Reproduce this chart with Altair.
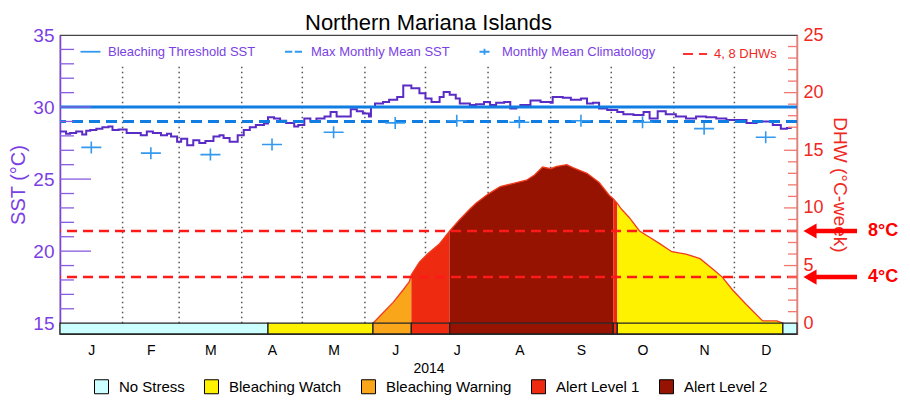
import altair as alt
import pandas as pd

# ---------------- values ----------------
YEAR_START = "2014-01-01"

# daily SST (day offset from 1 Jan 2014, degC)
sst_day = [0, 3, 5, 8, 11, 13, 15, 18, 21, 24, 26, 29, 33, 36, 40, 43, 46, 50, 53, 55,
           58, 60, 63, 66, 69, 72, 76, 79, 81, 84, 88, 91, 94, 97, 101, 103, 106, 109, 112, 116,
           118, 121, 124, 127, 131, 134, 137, 140, 144, 147, 150, 153, 154, 156, 160, 163, 167, 170, 174, 178,
           181, 184, 188, 190, 193, 196, 198, 203, 206, 210, 213, 216, 220, 223, 226, 228, 233, 238, 243, 244,
           249, 253, 258, 261, 264, 267, 271, 276, 279, 284, 289, 292, 296, 300, 305, 310, 315, 320, 325, 330,
           335, 340, 345, 350, 353, 357, 360, 362]
sst_val = [28.3, 28.15, 28.2, 28.3, 28.1, 28.35, 28.4, 28.5, 28.6, 28.65, 28.4, 28.45, 28.2, 28.2, 28.05, 28.3, 28.2, 28.05, 28.15, 27.95,
           27.6, 27.8, 27.35, 27.7, 27.5, 27.65, 27.95, 28.05, 27.85, 27.6, 28.05, 28.4, 28.6, 28.75, 28.85, 29.3, 29.2, 29.05, 28.9, 28.65,
           28.75, 29.2, 29.0, 29.2, 29.35, 29.65, 29.35, 29.35, 29.85, 29.7, 29.55, 29.35, 30.0, 30.25, 30.35, 30.5, 30.7, 31.5, 31.3, 30.95,
           30.6, 30.35, 30.7, 31.05, 30.85, 30.6, 30.25, 30.15, 30.2, 30.35, 30.15, 30.3, 30.35, 29.9, 30.0, 30.15, 30.45, 30.35, 30.3, 30.7,
           30.65, 30.5, 30.6, 30.25, 30.3, 29.9, 29.8, 29.65, 29.5, 29.45, 29.65, 29.2, 29.7, 29.5, 29.35, 29.2, 29.35, 29.3, 29.2, 29.1,
           29.1, 28.9, 29.0, 29.0, 28.75, 28.5, 28.55, 28.5]

# monthly mean climatology (degC), one per month
clim_val = [27.2, 26.8, 26.7, 27.4, 28.25, 28.9, 29.05, 28.95, 29.05, 28.95, 28.5, 27.9]
mmm_sst = 29.0          # max monthly mean
threshold_sst = 30.0    # bleaching threshold

# degree heating weeks
dhw_day = [155, 160, 165, 170, 173, 174, 178, 182, 188, 193, 198, 203, 206, 212, 218, 224, 231, 235, 239, 243,
           246, 251, 254, 261, 267, 272, 274, 276, 278, 282, 287, 292, 297, 303, 310, 317, 324, 328, 333, 340,
           348, 355, 358]
dhw_val = [0.0, 0.9, 1.8, 2.9, 3.6, 4.2, 5.3, 6.0, 6.9, 8.0, 9.0, 9.9, 10.4, 11.2, 11.85, 12.1, 12.4, 12.85, 13.55, 13.4,
           13.6, 13.75, 13.5, 13.0, 12.2, 11.1, 10.8, 10.4, 9.9, 9.15, 8.0, 7.45, 6.9, 6.2, 6.0, 5.6, 4.6, 4.0, 2.9, 1.6,
           0.2, 0.2, 0.0]
dhw_lines = [4, 8]
dhw_arrow_labels = ["4°C", "8°C"]

stress_levels = ["No Stress", "Bleaching Watch", "Bleaching Warning", "Alert Level 1", "Alert Level 2"]
stress_colors = ["#CCFFFF", "#FFF200", "#FAA61A", "#EE2A10", "#951300"]
stress_start = ["2014-01-01", "2014-04-14", "2014-06-05", "2014-06-24", "2014-07-13",
                "2014-10-02", "2014-10-04", "2014-12-25"]
stress_end_last = "2015-01-01"
stress_level = ["No Stress", "Bleaching Watch", "Bleaching Warning", "Alert Level 1", "Alert Level 2",
                "Alert Level 1", "Bleaching Watch", "No Stress"]

month_letters = ["J", "F", "M", "A", "M", "J", "J", "A", "S", "O", "N", "D"]
sst_ticks_minor = [v for v in range(16, 35) if v % 5 != 0]
sst_ticks_major = [20, 25, 30]
dhw_ticks_minor = [v for v in range(1, 25) if v % 5 != 0]
dhw_ticks_major = [5, 10, 15, 20]

ref_names = ["Bleaching Threshold SST", "Max Monthly Mean SST", "Monthly Mean Climatology"]
dhw_name = "4, 8 DHWs"

# ---------------- derived tables ----------------
t0 = pd.Timestamp(YEAR_START)
def doy(s):
    return (pd.Timestamp(s) - t0).days

m_starts = [doy(d) for d in pd.date_range(YEAR_START, stress_end_last, freq="MS")]
m_mids = [(a + b) / 2 for a, b in zip(m_starts[:-1], m_starts[1:])]
x_end = m_starts[-1]

sst_df = pd.DataFrame({"day": sst_day, "sst": sst_val})
clim_df = pd.DataFrame({"day": m_mids, "sst": clim_val, "name": ref_names[2]})
month_df = pd.DataFrame({"day": m_starts[1:-1], "base": 15.0})
dhw_df = pd.DataFrame({"day": dhw_day, "dhw": dhw_val})

s_start = [doy(d) for d in stress_start]
s_end = s_start[1:] + [doy(stress_end_last)]
stress_df = pd.DataFrame({"start": s_start, "end": s_end, "level": stress_level, "top": 15.0})

area_rows = []
for i, (a, b, lev) in enumerate(zip(s_start, s_end, stress_level)):
    pts = [(d, v) for d, v in zip(dhw_day, dhw_val) if a <= d <= b]
    if len(pts) >= 2:
        for d, v in pts:
            area_rows.append({"day": d, "dhw": v, "base": 0.0, "level": lev, "seg": i})
area_df = pd.DataFrame(area_rows)

thr_df = pd.DataFrame({"sst": [threshold_sst], "name": [ref_names[0]]})
mmm_df = pd.DataFrame({"sst": [mmm_sst], "name": [ref_names[1]]})
dhwl_df = pd.DataFrame({"dhw": dhw_lines, "lab": dhw_name})
arrow_df = pd.DataFrame({"dhw": dhw_lines, "txt": dhw_arrow_labels})

# ---------------- styling ----------------
W, H = 737, 299
FONT = "Liberation Sans"
PURPLE = "#7B3FE4"
RED = "#F0281E"
BLUE = "#0F7DE2"
LBLUE = "#3399EE"

SST_MIN = 14.25
stress_df["bottom"] = SST_MIN
sst_scale = alt.Scale(domain=[SST_MIN, 35], nice=False, zero=False)
dhw_scale = alt.Scale(domain=[(SST_MIN - 15) * 1.25, 25], nice=False, zero=False)
x_scale = alt.Scale(domain=[0, x_end], nice=False, zero=False)

label_expr = "".join(f"datum.value == {m} ? '{l}' : " for m, l in zip(m_mids, month_letters)) + "''"
x_axis = alt.Axis(values=m_mids, labelExpr=label_expr, title="2014", ticks=False, domain=False,
                  grid=False, labelFontSize=14, labelColor="black", labelPadding=9,
                  titleFontSize=14, titleFontWeight="normal", titleColor="black", titlePadding=4,
                  labelFont=FONT, titleFont=FONT, orient="bottom")
X = lambda f: alt.X(f, scale=x_scale, axis=x_axis)

color_legend = alt.Legend(orient="none", legendX=34, legendY=344, direction="horizontal", title=None,
                          symbolType="square", symbolSize=196, symbolStrokeColor="black",
                          symbolStrokeWidth=1, symbolOpacity=1, labelFontSize=15, labelFont=FONT,
                          labelColor="black", labelOffset=10, columnPadding=17, padding=0, labelLimit=300)
color_enc = alt.Color("level:N", scale=alt.Scale(domain=stress_levels, range=stress_colors), legend=color_legend)

dotted = alt.Chart(month_df).mark_rule(color="#555555", strokeDash=[1.5, 3.5], strokeWidth=1.5).encode(
    x=X("day:Q"), y=alt.Y("base:Q", scale=sst_scale, axis=None), y2=alt.value(31))

area = alt.Chart(area_df).mark_area(opacity=1).encode(
    x=X("day:Q"),
    y=alt.Y("dhw:Q", scale=dhw_scale, stack=None, axis=None),
    y2="base:Q",
    color=color_enc, detail="seg:N")

edge = alt.Chart(dhw_df).mark_line(color="#F23C1E", strokeWidth=1.3).encode(
    x=X("day:Q"),
    y=alt.Y("dhw:Q", scale=dhw_scale,
            axis=alt.Axis(orient="right", values=[0, 5, 10, 15, 20, 25], ticks=False, grid=False,
                          domainColor="#F07A70", domainWidth=1.5, labelColor=RED, labelFontSize=18,
                          labelFont=FONT, labelPadding=6, title="DHW (°C-week)", titleColor=RED,
                          titleFontSize=19, titleFontWeight="normal", titleFont=FONT, titlePadding=6)))

bars = alt.Chart(stress_df).mark_rect(stroke="#222222", strokeWidth=1.3).encode(
    x=X("start:Q"), x2="end:Q",
    y=alt.Y("top:Q", scale=sst_scale,
            axis=alt.Axis(orient="left", values=[15, 20, 25, 30, 35], ticks=False, grid=False,
                          domainColor=PURPLE, domainWidth=1.5, labelColor=PURPLE, labelFontSize=19,
                          labelFont=FONT, labelPadding=6, title="SST (°C)", titleColor=PURPLE,
                          titleFontSize=20, titleFontWeight="normal", titleFont=FONT, titlePadding=4)),
    y2="bottom:Q",
    color=color_enc)

sst_line = alt.Chart(sst_df).mark_line(color="#5B2BC6", strokeWidth=2, interpolate="step-after").encode(
    x=X("day:Q"), y=alt.Y("sst:Q", scale=sst_scale, axis=None))

thr = alt.Chart(thr_df).mark_rule(color=BLUE, strokeWidth=3).encode(
    y=alt.Y("sst:Q", scale=sst_scale, axis=None))
mmm = alt.Chart(mmm_df).mark_rule(color=BLUE, strokeWidth=3, strokeDash=[11, 6]).encode(
    y=alt.Y("sst:Q", scale=sst_scale, axis=None))

path_solid = "M-2,0H2"
path_dash = "M-1.7,0H-0.25M0.25,0H1.7"
path_plus = "M-1,0H1M0,-0.6V0.6"
clim = alt.Chart(clim_df).mark_point(filled=False, color=LBLUE, strokeWidth=1.6, size=400, opacity=1).encode(
    x=X("day:Q"), y=alt.Y("sst:Q", scale=sst_scale, axis=None),
    shape=alt.Shape("name:N", scale=alt.Scale(domain=ref_names, range=[path_solid, path_dash, path_plus]),
                    legend=alt.Legend(orient="none", legendX=24, legendY=10, direction="horizontal", title=None,
                                      symbolSize=100, symbolStrokeColor=LBLUE, symbolFillColor="transparent",
                                      symbolStrokeWidth=1.8, symbolOpacity=1, labelFontSize=13, labelFont=FONT,
                                      labelColor=PURPLE, labelOffset=11, columnPadding=25, padding=0,
                                      labelLimit=300)))

dhw_rules = alt.Chart(dhwl_df).mark_rule(color="#FF1A1A", strokeWidth=2.5).encode(
    y=alt.Y("dhw:Q", scale=dhw_scale, axis=None),
    strokeDash=alt.StrokeDash("lab:N", scale=alt.Scale(domain=[dhw_name], range=[[10, 6]]),
                              legend=alt.Legend(orient="none", legendX=622, legendY=6, title=None,
                                                symbolType="stroke", symbolSize=576, symbolStrokeColor="#FF3030",
                                                symbolStrokeWidth=1.8, labelFontSize=13, labelFont=FONT,
                                                labelColor=RED, labelOffset=6, padding=0)))

def tick_layer(vals, scale, x0, x1, color):
    return alt.Chart(pd.DataFrame({"v": vals})).mark_rule(color=color, strokeWidth=1.3).encode(
        y=alt.Y("v:Q", scale=scale, axis=None), x=alt.value(x0), x2=alt.value(x1))

t1 = tick_layer(sst_ticks_minor, sst_scale, 0, 14, "#8A5BE0")
t2 = tick_layer(sst_ticks_major, sst_scale, 0, 31, "#8A5BE0")
t3 = tick_layer(dhw_ticks_minor, dhw_scale, W - 9, W, "#F07A70")
t4 = tick_layer(dhw_ticks_major, dhw_scale, W - 13, W, "#F07A70")

arrows = alt.Chart(arrow_df).mark_rule(color="#FF0000", strokeWidth=4.5).encode(
    y=alt.Y("dhw:Q", scale=dhw_scale, axis=None), x=alt.value(W + 12), x2=alt.value(W + 60))
heads = alt.Chart(arrow_df).mark_point(shape="triangle-left", filled=True, color="#FF0000", size=230, opacity=1).encode(
    y=alt.Y("dhw:Q", scale=dhw_scale, axis=None), x=alt.value(W + 13))
texts = alt.Chart(arrow_df).mark_text(color="#FF0000", fontSize=18, fontWeight="bold", font=FONT,
                                      align="left", baseline="middle").encode(
    y=alt.Y("dhw:Q", scale=dhw_scale, axis=None), x=alt.value(W + 71), text="txt:N")

chart = alt.layer(
    dotted, area, edge, bars, sst_line, thr, mmm, clim, dhw_rules, t1, t2, t3, t4, arrows, heads, texts
).resolve_scale(y="independent").properties(
    width=W, height=H,
    title=alt.TitleParams("Northern Mariana Islands", fontSize=22, fontWeight="normal", font=FONT,
                          color="black", anchor="middle", offset=5, dy=14),
    autosize=alt.AutoSizeParams(type="none"),
    padding={"left": 52, "top": 27, "right": 105, "bottom": 62},
).configure(font=FONT).configure_view(stroke="#444444", strokeWidth=1.2)

chart.save("out.html", embed_options={"renderer": "svg", "actions": False})
